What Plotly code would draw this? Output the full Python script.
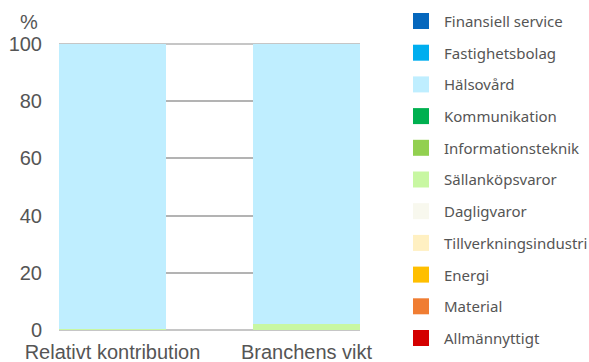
import plotly.graph_objects as go

# Categories on the x axis
categories = ["Relativt kontribution", "Branchens vikt"]

# Sectors, listed top to bottom as in the legend
sectors = [
    "Finansiell service", "Fastighetsbolag", "Hälsovård", "Kommunikation",
    "Informationsteknik", "Sällanköpsvaror", "Dagligvaror",
    "Tillverkningsindustri", "Energi", "Material", "Allmännyttigt",
]
sector_colors = [
    "#0567bd", "#00aeef", "#bfeeff", "#00b050",
    "#92d050", "#c8f7a2", "#f8f8ee",
    "#fff0c2", "#ffbf00", "#f07d32", "#d40000",
]

# Share per sector (%), one value per category
values = {
    "Finansiell service":    [0.0, 0.0],
    "Fastighetsbolag":       [0.0, 0.0],
    "Hälsovård":             [99.6, 98.0],
    "Kommunikation":         [0.0, 0.0],
    "Informationsteknik":    [0.0, 0.0],
    "Sällanköpsvaror":       [0.4, 2.0],
    "Dagligvaror":           [0.0, 0.0],
    "Tillverkningsindustri": [0.0, 0.0],
    "Energi":                [0.0, 0.0],
    "Material":              [0.0, 0.0],
    "Allmännyttigt":         [0.0, 0.0],
}

y_ticks = [0, 20, 40, 60, 80, 100]

W, H = 589, 362
L, R, T, B = 59, 229, 43, 31
plot_w = W - L - R
plot_h = H - T - B

GRID = "#b3b3b3"

fig = go.Figure()

# Stack from the bottom up: last legend entry sits lowest
for name, color in reversed(list(zip(sectors, sector_colors))):
    fig.add_trace(go.Bar(
        x=[0, 1], y=values[name], name=name,
        marker=dict(color=color, line=dict(width=0)),
        width=0.5515, showlegend=False,
        hovertemplate=name + ": %{y}%<extra></extra>",
    ))

def px_x(px):
    return (px - L) / plot_w

def px_y(py):
    return 1 - (py - T) / plot_h

shapes = []
annotations = []

# Grid lines at the ends of the value axis, kept beneath the bars
for yv in (y_ticks[0], y_ticks[-1]):
    shapes.append(dict(
        type="line", xref="paper", yref="y", x0=0, x1=1, y0=yv, y1=yv,
        line=dict(color=GRID, width=1.5), layer="below",
    ))

# Legend drawn as squares plus labels to the right of the plot
for i, (name, color) in enumerate(zip(sectors, sector_colors)):
    cy = 21 + i * 31.7
    shapes.append(dict(
        type="rect", xref="paper", yref="paper",
        x0=px_x(413), x1=px_x(429), y0=px_y(cy + 8), y1=px_y(cy - 8),
        fillcolor=color, line=dict(width=0), layer="above",
    ))
    annotations.append(dict(
        text=name, xref="paper", yref="paper",
        x=px_x(442), y=px_y(cy), xanchor="left", yanchor="middle",
        showarrow=False, font=dict(family="Noto Sans", size=15, color="#555555"),
    ))

annotations.append(dict(
    text="%", xref="paper", yref="paper", x=px_x(29), y=px_y(22),
    xanchor="center", yanchor="middle", showarrow=False,
    font=dict(family="Liberation Sans, Arial", size=20, color="#555555"),
))

fig.update_layout(
    width=W, height=H,
    margin=dict(l=L, r=R, t=T, b=B, pad=0, autoexpand=False),
    barmode="stack",
    paper_bgcolor="white", plot_bgcolor="white",
    shapes=shapes, annotations=annotations,
    font=dict(family="Liberation Sans, Arial", size=20, color="#555555"),
    xaxis=dict(
        range=[-0.2758, 1.2758], tickmode="array", tickvals=[0, 1],
        ticktext=categories, showgrid=False, zeroline=False,
        showline=False, ticks="", ticklabelstandoff=7, automargin=False,
        tickfont=dict(size=20, color="#555555"),
    ),
    yaxis=dict(
        range=[-0.35, 100.35], tickmode="array", tickvals=y_ticks,
        showgrid=True, gridcolor=GRID, gridwidth=1.5,
        zeroline=False, showline=False, ticks="", automargin=False,
        ticklabelstandoff=16, tickfont=dict(size=20, color="#555555"),
    ),
)

fig.write_html("out.html")
